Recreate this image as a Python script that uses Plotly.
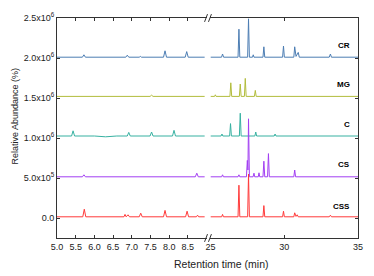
import plotly.graph_objects as go

# ---------------- data (retention time in min, abundance) ----------------
cr_t = [5.0, 5.68, 5.72, 5.76, 6.84, 6.88, 6.92, 7.20, 7.23, 7.26, 7.85, 7.89, 7.93, 8.43, 8.47, 8.51, 8.95, None,
        25.0, 25.75, 25.82, 25.89, 26.87, 26.93, 26.99, 27.52, 27.58, 27.64, 27.85, 27.90, 27.95, 28.56, 28.62, 28.68,
        29.89, 29.95, 30.01, 30.65, 30.71, 30.80, 30.95, 31.02, 33.05, 33.13, 33.20, 35.0]
cr_v = [2.01e6, 2.01e6, 2.04e6, 2.01e6, 2.01e6, 2.035e6, 2.01e6, 2.01e6, 2.02e6, 2.01e6, 2.01e6, 2.09e6, 2.01e6,
        2.01e6, 2.08e6, 2.01e6, 2.01e6, None,
        2.01e6, 2.01e6, 2.05e6, 2.01e6, 2.01e6, 2.36e6, 2.01e6, 2.01e6, 2.49e6, 2.01e6, 2.01e6, 2.04e6, 2.01e6,
        2.01e6, 2.14e6, 2.01e6, 2.01e6, 2.15e6, 2.01e6, 2.01e6, 2.14e6, 2.02e6, 2.07e6, 2.01e6, 2.01e6, 2.05e6,
        2.01e6, 2.01e6]

mg_t = [5.0, 7.49, 7.53, 7.57, 8.95, None,
        25.0, 25.28, 25.33, 25.38, 26.32, 26.38, 26.44, 26.96, 27.02, 27.08, 27.30, 27.36, 27.42, 27.98, 28.04, 28.10, 35.0]
mg_v = [1.52e6, 1.52e6, 1.535e6, 1.52e6, 1.52e6, None,
        1.52e6, 1.52e6, 1.54e6, 1.52e6, 1.52e6, 1.69e6, 1.52e6, 1.52e6, 1.675e6, 1.52e6, 1.52e6, 1.745e6, 1.52e6,
        1.52e6, 1.595e6, 1.52e6, 1.52e6]

c_t = [5.0, 5.39, 5.43, 5.47, 6.0, 6.3, 6.6, 6.88, 6.92, 6.96, 7.49, 7.53, 7.57, 8.09, 8.13, 8.17, 8.95, None,
       25.0, 25.72, 25.78, 25.84, 26.30, 26.36, 26.42, 26.96, 27.02, 27.08, 28.01, 28.07, 28.13, 29.32, 29.38, 29.44, 35.0]
c_v = [1.025e6, 1.025e6, 1.09e6, 1.025e6, 1.025e6, 1.015e6, 1.025e6, 1.025e6, 1.07e6, 1.025e6, 1.025e6, 1.075e6,
       1.025e6, 1.025e6, 1.096e6, 1.025e6, 1.025e6, None,
       1.025e6, 1.025e6, 1.05e6, 1.025e6, 1.025e6, 1.18e6, 1.025e6, 1.025e6, 1.31e6, 1.025e6, 1.025e6, 1.075e6,
       1.025e6, 1.025e6, 1.05e6, 1.025e6, 1.025e6]

cs_t = [5.0, 5.68, 5.72, 5.76, 8.70, 8.74, 8.78, 8.95, None,
        25.0, 25.76, 25.82, 25.88, 26.87, 26.93, 26.99, 27.44, 27.50, 27.54, 27.58, 27.64, 27.89, 27.95, 28.00,
        28.24, 28.29, 28.34, 28.56, 28.62, 28.68, 28.87, 28.93, 28.99, 30.65, 30.71, 30.77, 35.0]
cs_v = [0.515e6, 0.515e6, 0.54e6, 0.515e6, 0.515e6, 0.56e6, 0.515e6, 0.515e6, None,
        0.515e6, 0.515e6, 0.54e6, 0.515e6, 0.515e6, 0.54e6, 0.515e6, 0.515e6, 0.72e6, 0.60e6, 1.24e6, 0.515e6,
        0.515e6, 0.56e6, 0.515e6, 0.515e6, 0.565e6, 0.515e6, 0.515e6, 0.71e6, 0.515e6, 0.515e6, 0.805e6, 0.515e6,
        0.515e6, 0.60e6, 0.515e6, 0.515e6]

css_t = [5.0, 5.69, 5.73, 5.77, 6.79, 6.82, 6.85, 6.90, 6.94, 7.20, 7.24, 7.28, 7.85, 7.89, 7.93, 8.44, 8.48, 8.52,
         8.73, 8.76, 8.79, 8.95, None,
         25.0, 25.76, 25.82, 25.88, 26.87, 26.93, 26.99, 27.52, 27.58, 27.64, 28.56, 28.62, 28.68, 29.89, 29.95, 30.01,
         30.65, 30.71, 30.80, 30.88, 30.95, 33.05, 33.13, 33.20, 35.0]
css_v = [0.015e6, 0.015e6, 0.11e6, 0.015e6, 0.015e6, 0.045e6, 0.015e6, 0.04e6, 0.015e6, 0.015e6, 0.06e6, 0.015e6,
         0.015e6, 0.095e6, 0.015e6, 0.015e6, 0.085e6, 0.015e6, 0.015e6, 0.035e6, 0.015e6, 0.015e6, None,
         0.015e6, 0.015e6, 0.045e6, 0.015e6, 0.015e6, 0.41e6, 0.015e6, 0.015e6, 0.55e6, 0.015e6, 0.015e6, 0.155e6,
         0.015e6, 0.015e6, 0.085e6, 0.015e6, 0.015e6, 0.065e6, 0.02e6, 0.04e6, 0.015e6, 0.015e6, 0.035e6, 0.015e6,
         0.015e6]

series_names = ["CR", "MG", "C", "CS", "CSS"]
series_t = [cr_t, mg_t, c_t, cs_t, css_t]
series_v = [cr_v, mg_v, c_v, cs_v, css_v]
series_colors = ["#4c7db3", "#b2bc3c", "#37b1a1", "#a23ff2", "#ff3a3a"]
label_y = [2.16e6, 1.67e6, 1.175e6, 0.665e6, 0.14e6]

y_tickvals = [0, 5e5, 1e6, 1.5e6, 2e6, 2.5e6]
y_ticktext = ["0.0", "5.0x10<sup>5</sup>", "1.0x10<sup>6</sup>", "1.5x10<sup>6</sup>",
              "2.0x10<sup>6</sup>", "2.5x10<sup>6</sup>"]
x1_tickvals = [5.0, 5.5, 6.0, 6.5, 7.0, 7.5, 8.0, 8.5]
x1_ticktext = ["5.0", "5.5", "6.0", "6.5", "7.0", "7.5", "8.0", "8.5"]
x2_tickvals = [25, 30, 35]
x2_ticktext = ["25", "30", "35"]

# ---------------- figure ----------------
fig = go.Figure()
for name, t, v, col in zip(series_names, series_t, series_v, series_colors):
    fig.add_trace(go.Scatter(x=t, y=v, mode="lines", line=dict(color=col, width=1),
                             xaxis="x", yaxis="y", showlegend=False, name=name, connectgaps=False))
    fig.add_trace(go.Scatter(x=t, y=v, mode="lines", line=dict(color=col, width=1),
                             xaxis="x2", yaxis="y2", showlegend=False, name=name, connectgaps=False))

FONT = "Liberation Sans, Arial, sans-serif"
axcol = "#333333"
common_x = dict(showline=True, linecolor=axcol, linewidth=1, ticks="inside", ticklen=3,
                tickcolor=axcol, mirror="ticks", showgrid=False, zeroline=False,
                tickfont=dict(size=9, color="#222"))

d1 = 152 / 306
d2 = 156 / 306
fig.update_layout(
    width=374, height=276,
    margin=dict(l=57, r=11, t=11, b=38),
    paper_bgcolor="white", plot_bgcolor="white",
    font=dict(family=FONT, color="#222"),
    xaxis=dict(domain=[0, d1], range=[5, 9], tickvals=x1_tickvals, ticktext=x1_ticktext,
               anchor="y", **common_x),
    xaxis2=dict(domain=[d2, 1], range=[25, 35], tickvals=x2_tickvals, ticktext=x2_ticktext,
                anchor="y2", **common_x),
    yaxis=dict(range=[-2.5e5, 2.5e6], tickvals=y_tickvals, ticktext=y_ticktext, anchor="x",
               showline=True, linecolor=axcol, linewidth=1, ticks="inside", ticklen=3, tickcolor=axcol,
               showgrid=False, zeroline=False, tickfont=dict(size=9, color="#222")),
    yaxis2=dict(range=[-2.5e5, 2.5e6], tickvals=y_tickvals, anchor="x2", side="right",
                showticklabels=False, showline=True, linecolor=axcol, linewidth=1, ticks="inside",
                ticklen=3, tickcolor=axcol, showgrid=False, zeroline=False),
)

# series labels
for name, ly in zip(series_names, label_y):
    fig.add_annotation(x=34.6, y=ly, xref="x2", yref="y2", text="<b>%s</b>" % name, showarrow=False,
                       xanchor="right", yanchor="middle", font=dict(size=8, color="black", family=FONT))

# axis titles
fig.add_annotation(x=(224 - 57) / 306, y=(238 - 265) / 227, xref="paper", yref="paper",
                   text="Retention time (min)", showarrow=False, xanchor="center", yanchor="middle",
                   font=dict(size=10.5, color="#222", family=FONT))
fig.add_annotation(x=(14 - 57) / 306, y=(238 - 112) / 227, xref="paper", yref="paper",
                   text="Relative Abundance (%)", showarrow=False, textangle=-90,
                   xanchor="center", yanchor="middle", font=dict(size=9, color="#222", family=FONT))

# axis break marks (//)
def px(xp):
    return (xp - 57) / 306

def py(yp):
    return (238 - yp) / 227

for yb in [238, 11]:
    for xb in [207, 211]:
        fig.add_shape(type="line", xref="paper", yref="paper",
                      x0=px(xb), y0=py(yb + 4), x1=px(xb + 3), y1=py(yb - 4),
                      line=dict(color=axcol, width=1))

fig.write_html("out.html", config={"displayModeBar": False},
               post_script="document.body.style.margin='0';document.body.style.overflow='hidden';")
